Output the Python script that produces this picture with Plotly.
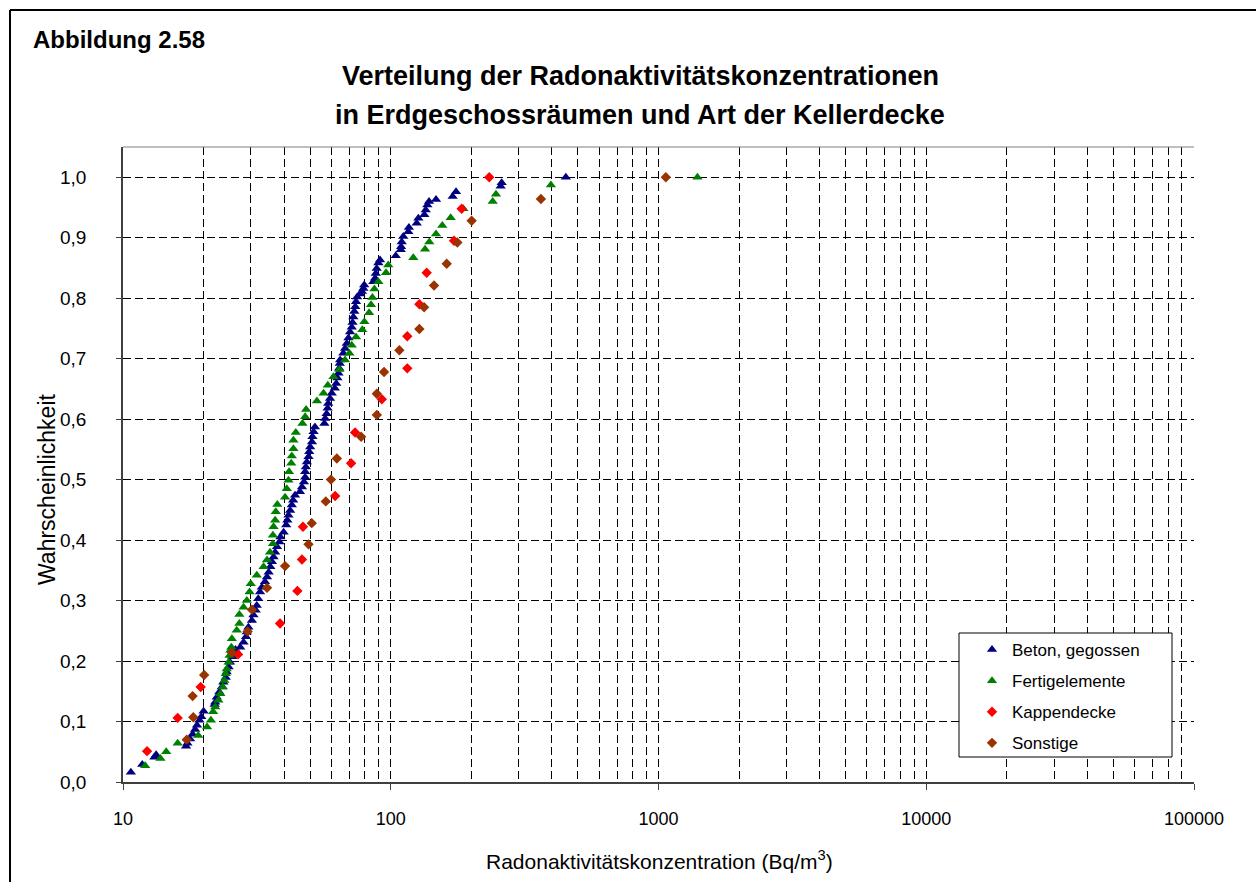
import plotly.graph_objects as go

# ---------------- data ----------------
beton_x = [10.7, 11.8, 13.1, 13.3, 17.2, 17.4, 17.8, 18.2, 18.6, 18.9,
           19.3, 19.6, 20.0, 22.0, 22.1, 22.4, 22.9, 23.4, 23.7, 24.2,
           24.4, 24.8, 25.1, 25.6, 26.0, 26.3, 27.4, 28.2, 28.8, 29.0,
           29.4, 30.3, 30.7, 31.3, 31.6, 32.0, 32.5, 33.0, 33.9, 34.5,
           35.0, 35.5, 36.0, 36.5, 37.0, 37.6, 38.4, 38.7, 39.8, 40.7,
           41.1, 41.5, 42.1, 42.7, 43.2, 43.9, 45.8, 46.6, 47.4, 47.9,
           47.9, 48.2, 48.6, 49.3, 49.6, 50.0, 50.8, 51.0, 51.5, 52.1,
           56.5, 56.9, 57.6, 58.1, 58.4, 59.3, 60.2, 61.8, 62.6, 63.2,
           63.8, 64.2, 64.5, 64.7, 66.5, 67.5, 68.5, 69.5, 70.5, 71.5,
           72.0, 72.5, 73.1, 73.7, 74.2, 74.9, 77.0, 78.0, 79.0, 79.6,
           86.1, 87.4, 87.9, 88.6, 89.9, 91.2, 104.4, 109.0, 109.3, 109.9,
           111.4, 116.3, 116.9, 125.0, 126.8, 133.5, 135.1, 137.0, 139.0, 147.6,
           170.3, 175.3, 257.3, 259.6, 450.8]
beton_y = [0.016, 0.029, 0.041, 0.045, 0.059, 0.064, 0.071, 0.079, 0.087, 0.094,
           0.102, 0.108, 0.117, 0.128, 0.132, 0.140, 0.149, 0.157, 0.165, 0.173,
           0.182, 0.190, 0.198, 0.207, 0.215, 0.219, 0.223, 0.231, 0.240, 0.248,
           0.256, 0.267, 0.276, 0.284, 0.292, 0.303, 0.314, 0.322, 0.331, 0.339,
           0.347, 0.356, 0.364, 0.372, 0.380, 0.389, 0.397, 0.405, 0.413, 0.425,
           0.433, 0.441, 0.449, 0.458, 0.466, 0.474, 0.480, 0.488, 0.496, 0.504,
           0.513, 0.521, 0.529, 0.538, 0.546, 0.554, 0.562, 0.571, 0.579, 0.587,
           0.593, 0.601, 0.609, 0.618, 0.626, 0.634, 0.643, 0.651, 0.659, 0.668,
           0.676, 0.684, 0.692, 0.698, 0.709, 0.717, 0.725, 0.734, 0.744, 0.752,
           0.760, 0.769, 0.778, 0.786, 0.794, 0.802, 0.807, 0.811, 0.816, 0.822,
           0.827, 0.833, 0.841, 0.849, 0.858, 0.863, 0.870, 0.880, 0.885, 0.893,
           0.902, 0.910, 0.917, 0.924, 0.932, 0.938, 0.946, 0.954, 0.960, 0.963,
           0.968, 0.976, 0.985, 0.991, 1.000]

fertig_x = [12.1, 13.8, 14.5, 16.0, 19.1, 20.6, 21.3, 21.7, 22.1, 22.7,
            23.1, 23.6, 23.9, 24.2, 24.4, 24.8, 25.0, 25.2, 25.4, 25.5,
            26.6, 27.2, 27.2, 28.2, 29.0, 29.7, 30.0, 31.6, 33.5, 34.5,
            35.4, 36.3, 36.3, 36.5, 37.0, 37.2, 37.7, 40.3, 40.9, 41.5,
            41.7, 42.5, 42.7, 43.3, 43.3, 44.2, 46.8, 47.9, 48.3, 53.0,
            56.1, 58.2, 61.1, 64.3, 67.5, 70.1, 71.5, 74.2, 78.3, 79.7,
            83.0, 84.4, 85.4, 86.9, 89.9, 96.0, 97.9, 121.4, 134.3, 139.3,
            147.6, 155.8, 167.4, 186.6, 240.3, 247.2, 396.4, 1398.0]
fertig_y = [0.027, 0.039, 0.050, 0.064, 0.077, 0.091, 0.102, 0.116, 0.124, 0.135,
            0.146, 0.157, 0.168, 0.179, 0.187, 0.198, 0.209, 0.218, 0.223, 0.237,
            0.251, 0.262, 0.277, 0.289, 0.300, 0.314, 0.328, 0.342, 0.356, 0.367,
            0.380, 0.394, 0.408, 0.422, 0.433, 0.447, 0.459, 0.471, 0.485, 0.499,
            0.513, 0.527, 0.539, 0.551, 0.565, 0.578, 0.593, 0.604, 0.616, 0.630,
            0.643, 0.656, 0.670, 0.682, 0.698, 0.709, 0.722, 0.736, 0.748, 0.761,
            0.776, 0.789, 0.801, 0.815, 0.827, 0.842, 0.855, 0.867, 0.881, 0.893,
            0.906, 0.920, 0.933, 0.948, 0.960, 0.972, 0.987, 1.000]

kappen_x = [12.3, 16.0, 19.5, 26.9, 38.6, 44.8, 46.6, 47.0, 62.0, 71.1,
            73.6, 92.6, 115.3, 115.3, 127.9, 136.2, 172.3, 184.0, 233.3]
kappen_y = [0.051, 0.106, 0.157, 0.211, 0.262, 0.316, 0.368, 0.422, 0.473, 0.527,
            0.578, 0.633, 0.684, 0.737, 0.790, 0.842, 0.895, 0.948, 1.000]

sonst_x = [17.3, 18.3, 18.2, 20.1, 25.5, 29.2, 30.3, 34.5, 40.3, 49.3,
           50.7, 57.2, 59.8, 62.9, 77.5, 88.7, 88.7, 94.4, 107.7, 127.9,
           133.2, 145.1, 161.8, 177.3, 200.5, 363.8, 1065.0]
sonst_y = [0.070, 0.107, 0.142, 0.177, 0.214, 0.249, 0.285, 0.321, 0.357, 0.393,
           0.428, 0.464, 0.500, 0.535, 0.571, 0.607, 0.642, 0.678, 0.714, 0.749,
           0.785, 0.821, 0.857, 0.892, 0.928, 0.964, 1.000]

series_names = ["Beton, gegossen", "Fertigelemente", "Kappendecke", "Sonstige"]

x_tick_vals = [10, 100, 1000, 10000, 100000]
x_tick_text = ["10", "100", "1000", "10000", "100000"]
y_tick_vals = [0.0, 0.1, 0.2, 0.3, 0.4, 0.5, 0.6, 0.7, 0.8, 0.9, 1.0]
y_tick_text = ["0,0", "0,1", "0,2", "0,3", "0,4", "0,5", "0,6", "0,7", "0,8", "0,9", "1,0"]

caption = "Abbildung 2.58"
title_line1 = "Verteilung der Radonaktivitätskonzentrationen"
title_line2 = "in Erdgeschossräumen und Art der Kellerdecke"
x_title = "Radonaktivitätskonzentration (Bq/m<sup>3</sup>)"
y_title = "Wahrscheinlichkeit"

# ---------------- layout helpers ----------------
W, H = 1256, 882
L, R, T, B = 123, 62, 147, 100
PW, PH = W - L - R, H - T - B


def pxx(x):
    return (x - L) / PW


def pxy(y):
    return (H - B - y) / PH


FONT = "Liberation Sans, Arial, sans-serif"
GRID = "#000000"
DASH = "8px,4px"

styles = [
    ("#000080", "triangle-up", 9),
    ("#008000", "triangle-up", 9),
    ("#FF0000", "diamond", 8),
    ("#993300", "diamond", 8),
]
data = [(beton_x, beton_y), (fertig_x, fertig_y), (kappen_x, kappen_y), (sonst_x, sonst_y)]

fig = go.Figure()
for name, (xs, ys), (col, sym, sz) in zip(series_names, data, styles):
    fig.add_trace(go.Scatter(
        x=xs, y=ys, mode="markers", name=name, legendgroup=name,
        marker=dict(color=col, symbol=sym, size=sz, line=dict(width=0)),
        cliponaxis=False,
    ))

fig.update_layout(
    width=W, height=H,
    margin=dict(l=L, r=R, t=T, b=B, pad=0),
    paper_bgcolor="white", plot_bgcolor="white",
    font=dict(family=FONT, color="black", size=17),
    showlegend=True,
    legend=dict(
        x=pxx(972), y=pxy(632), xanchor="left", yanchor="top",
        bgcolor="rgba(0,0,0,0)", borderwidth=0,
        font=dict(family=FONT, size=17, color="black"),
        tracegroupgap=6, itemsizing="trace",
    ),
)

fig.update_xaxes(
    type="log", range=[1, 5],
    tickmode="array", tickvals=x_tick_vals, ticktext=x_tick_text,
    ticks="outside", ticklen=6, tickcolor="#404040", tickwidth=1,
    showline=True, linecolor="#404040", linewidth=2,
    showgrid=True, gridcolor=GRID, gridwidth=1, griddash=DASH,
    minor=dict(dtick="D1", showgrid=True, gridcolor=GRID, gridwidth=1,
               griddash=DASH, ticks=""),
    tickfont=dict(size=18, family=FONT),
    ticklabelstandoff=13,
    zeroline=False,
)
fig.update_yaxes(
    range=[0, 1.05],
    tickmode="array", tickvals=y_tick_vals, ticktext=y_tick_text,
    ticks="outside", ticklen=5, tickcolor="#404040", tickwidth=1,
    showline=True, linecolor="#404040", linewidth=1.5,
    showgrid=True, gridcolor=GRID, gridwidth=1, griddash=DASH,
    tickfont=dict(size=19, family=FONT),
    ticklabelstandoff=26,
    zeroline=False,
)

# titles
ann = [
    dict(text="<b>" + caption + "</b>", x=pxx(31), y=pxy(40), xanchor="left", yanchor="middle",
         font=dict(size=24, family=FONT)),
    dict(text="<b>" + title_line1 + "</b>", x=pxx(640), y=pxy(76), xanchor="center", yanchor="middle",
         font=dict(size=27, family=FONT)),
    dict(text="<b>" + title_line2 + "</b>", x=pxx(640), y=pxy(115), xanchor="center", yanchor="middle",
         font=dict(size=27, family=FONT)),
    dict(text=x_title, x=pxx(659), y=pxy(860), xanchor="center", yanchor="middle",
         font=dict(size=21, family=FONT)),
    dict(text=y_title, x=pxx(47), y=pxy(490), xanchor="center", yanchor="middle",
         textangle=-90, font=dict(size=23, family=FONT)),
]
for a in ann:
    fig.add_annotation(xref="paper", yref="paper", showarrow=False, **a)

# plot-area top border, legend box, outer frame
fig.add_shape(type="line", xref="paper", yref="paper", x0=0, x1=1, y0=1, y1=1,
              line=dict(color="#808080", width=1))
fig.add_shape(type="rect", xref="paper", yref="paper",
              x0=pxx(959), x1=pxx(1172), y0=pxy(757), y1=pxy(633),
              line=dict(color="black", width=1), fillcolor="white", layer="above")
fig.add_shape(type="line", xref="paper", yref="paper", x0=pxx(10), x1=pxx(10),
              y0=pxy(900), y1=pxy(10), line=dict(color="black", width=2))
fig.add_shape(type="line", xref="paper", yref="paper", x0=pxx(10), x1=pxx(1300),
              y0=pxy(10), y1=pxy(10), line=dict(color="black", width=2))

fig.write_html(
    "out.html",
    config={"displayModeBar": False},
    post_script="document.body.style.margin='0';document.body.style.overflow='hidden';",
)
